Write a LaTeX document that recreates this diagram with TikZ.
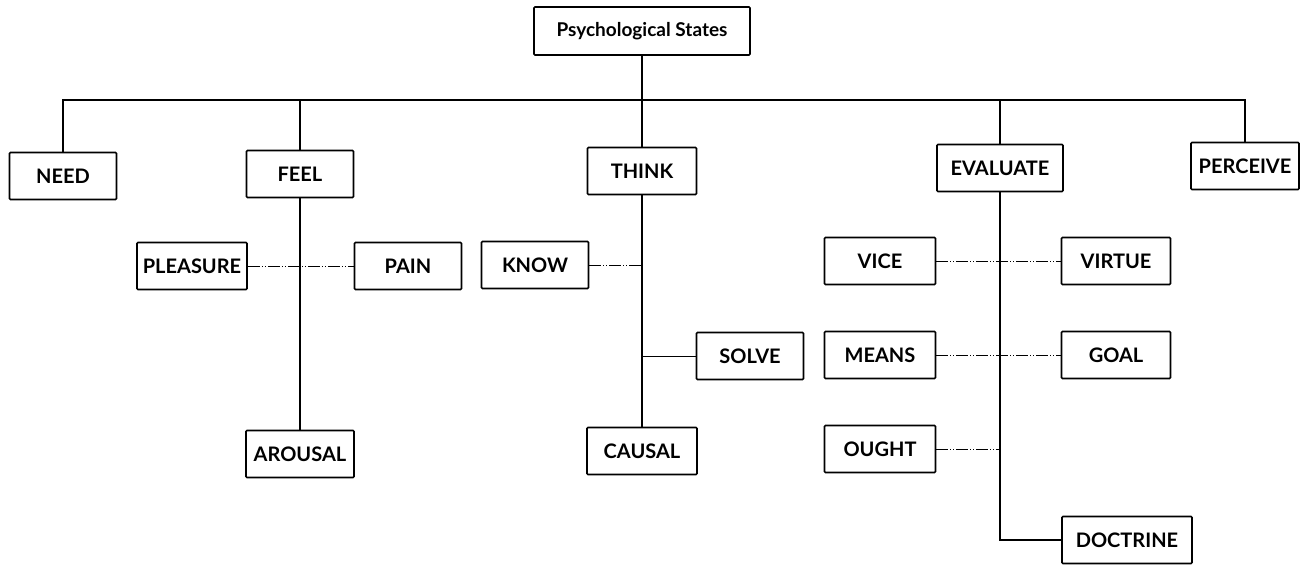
\documentclass[tikz,border=0pt]{standalone}
\usepackage{fontspec}
\setmainfont{Lato}
\usetikzlibrary{calc}

\tikzset{
  state/.style={draw, line width=1.6pt, rounded corners=1pt, minimum width=107pt, minimum height=47pt, inner sep=3pt, font=\fontsize{20}{22}\selectfont\bfseries},
  tree/.style={line width=1.6pt},
  assoc/.style={line width=0.9pt, dash pattern=on 12pt off 2pt on 1pt off 2pt on 1pt off 2pt}
}

\begin{document}
\begin{tikzpicture}[x=1pt, y=-1pt]
  \useasboundingbox (0, 0) rectangle (1301, 565);
  \node[state, minimum width=216pt, minimum height=48pt, font=\fontsize{19}{21}\selectfont\bfseries] (root) at (642, 31) {Psychological States};
  \node[state] (need) at (63, 176) {NEED};
  \node[state] (feel) at (300, 174) {FEEL};
  \node[state, minimum width=109pt] (think) at (642, 171) {THINK};
  \node[state, minimum width=126pt] (evaluate) at (1000, 168) {EVALUATE};
  \node[state, minimum width=108pt, inner sep=1pt] (perceive) at (1245, 166) {PERCEIVE};
  \node[state, minimum width=110pt, inner sep=1pt] (pleasure) at (192, 266) {PLEASURE};
  \node[state] (pain) at (408, 266) {PAIN};
  \node[state, minimum width=108pt] (arousal) at (300, 454) {AROUSAL};
  \node[state] (know) at (535, 265) {KNOW};
  \node[state] (solve) at (750, 356) {SOLVE};
  \node[state, minimum width=110pt] (causal) at (642, 451) {CAUSAL};
  \node[state, minimum width=111pt] (vice) at (880, 261) {VICE};
  \node[state, minimum width=109pt] (virtue) at (1116, 261) {VIRTUE};
  \node[state, minimum width=111pt] (means) at (880, 355) {MEANS};
  \node[state, minimum width=109pt] (goal) at (1116, 355) {GOAL};
  \node[state, minimum width=111pt] (ought) at (880, 449) {OUGHT};
  \node[state, minimum width=130pt] (doctrine) at (1127, 540) {DOCTRINE};
  \coordinate (bar) at (0, 100);

  \draw[tree] (need.north) |- (perceive.north |- bar) -- (perceive.north);
  \draw[tree] (root.south) -- (think.north);
  \draw[tree] (feel.north) -- (feel.north |- bar);
  \draw[tree] (evaluate.north) -- (evaluate.north |- bar);

  \draw[tree] (feel.south) -- (arousal.north);
  \draw[assoc] (pleasure.east) -- (pain.west);

  \draw[tree] (think.south) -- (causal.north);
  \draw[assoc] (know.east) -- (know.east -| think.south);
  \draw[line width=1pt] (solve.west) -- (solve.west -| think.south);

  \draw[tree] (evaluate.south) |- (doctrine.west);
  \draw[assoc] (vice.east) -- (virtue.west);
  \draw[assoc] (means.east) -- (goal.west);
  \draw[assoc] (ought.east) -- (ought.east -| evaluate.south);
\end{tikzpicture}
\end{document}
